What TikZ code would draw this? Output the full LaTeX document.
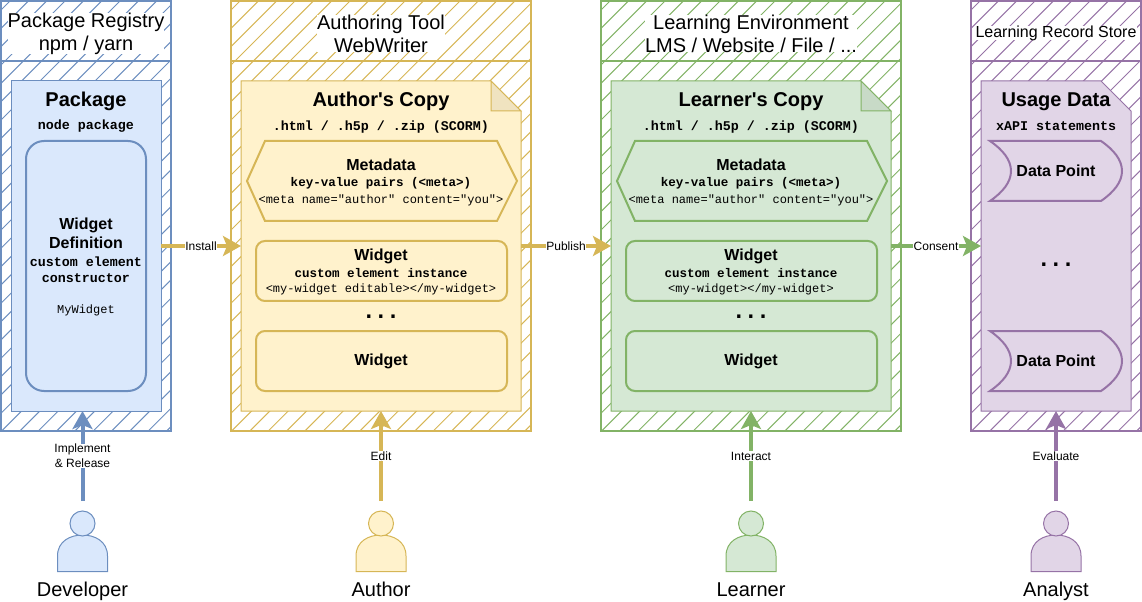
\documentclass[tikz,border=0pt]{standalone}
\usepackage{fontspec}
\newfontfamily\helv{Liberation Sans}
\newfontfamily\cour{Liberation Mono}
\newfontfamily\dotfont{DejaVu Sans Mono}
\usetikzlibrary{fit}
\usetikzlibrary{arrows.meta}
\definecolor{bluefill}{HTML}{DAE8FC}
\definecolor{bluestk}{HTML}{6C8EBF}
\definecolor{yelfill}{HTML}{FFF2CC}
\definecolor{yelstk}{HTML}{D6B656}
\definecolor{grnfill}{HTML}{D5E8D4}
\definecolor{grnstk}{HTML}{82B366}
\definecolor{purfill}{HTML}{E1D5E7}
\definecolor{purstk}{HTML}{9673A6}
\newcommand{\fsz}[1]{\fontsize{#1}{#1}\selectfont}
\tikzset{
    framebox/.style={draw=#1, line width=1.5pt, inner sep=0pt, outer sep=0pt},
    card/.style={inner sep=0pt, outer sep=0pt},
    inner/.style={draw=#1, line width=1.5pt, inner sep=0pt, outer sep=0pt, rounded corners=6.75pt},
    headtxt/.style={fill=white, inner sep=0pt, align=center, font=\helv\fsz{15}},
    title/.style={inner sep=0pt, anchor=base, font=\helv\bfseries\fsz{15}},
    boxtitle/.style={inner sep=0pt, align=center, font=\helv\bfseries\fsz{12}},
    subbold/.style={inner sep=0pt, font=\cour\bfseries\fsz{9.4}},
    subbig/.style={inner sep=0pt, font=\cour\bfseries\fsz{10}},
    subplain/.style={inner sep=0pt, font=\cour\fsz{9}},
    dots/.style={inner sep=0pt, font=\dotfont\bfseries\fsz{15}},
    flow/.style={draw=#1, line width=3pt, -{Stealth[length=13.5pt,width=15pt,inset=3pt]}},
    flowtxt/.style={fill=white, inner sep=.3pt, align=center, font=\helv\fsz{9}, text=black},
    whotxt/.style={inner sep=0pt, anchor=base, font=\helv\fsz{15}}
}

\begin{document}
\begin{tikzpicture}[x=.75pt,y=-.75pt]
    \useasboundingbox (0,0) rectangle (1142,602);
    % outer frames, one header and one body for each system
    \foreach \id/\xa/\xb/\stk in {reg/1/171/bluestk,tool/231/531/yelstk,env/601/901/grnstk,lrs/971/1141/purstk} {
        \begin{scope}
            \clip (\xa,1) rectangle (\xb,431);
            \foreach \n in {-1,...,40}
                \draw[\stk, line width=.75pt] (\xa+10+18.33*\n-431,431) -- (\xa+10+18.33*\n-1,1);
        \end{scope}
        \node[framebox=\stk, fit={(\xa,1) (\xb,61)}] (\id head) {};
        \node[framebox=\stk, fit={(\xa,61) (\xb,431)}] (\id body) {};
    }
    \node[headtxt] (reghdr) at (86,33.5) {Package Registry\\[2.25pt]npm / yarn};
    \node[headtxt] (toolhdr) at (381,33.5) {Authoring Tool\\[2.25pt]WebWriter};
    \node[headtxt] (envhdr) at (751,33.5) {Learning Environment\\[2.25pt]LMS / Website / File / ...};
    \node[headtxt, font=\helv\fsz{12}] (lrshdr) at (1056,33) {Learning Record Store};

    % package
    \node[card, draw=bluestk, line width=.75pt, fill=bluefill, fit={(11,81) (161,411)}] (pkg) {};
    \node[title] (pkgtitle) at (86,107) {Package};
    \node[subbig] (pkgsub) at (86,126.5) {node package};
    \node[inner=bluestk, rounded corners=13.5pt, fit={(26,141) (146,391)}] (widgetdef) {};
    \node[boxtitle] (deftitle) at (86,233.5) {Widget\\[2.25pt]Definition};
    \node[subbig] (defsub) at (86,261.5) {custom element};
    \node[subbig] (defsubb) at (86,278.5) {constructor};
    \node[subplain] (defname) at (86,310) {MyWidget};

    % the two copies have the same layout
    \foreach \id/\dx/\stk/\bg/\ttl/\inst in {
        acopy/0/yelstk/yelfill/Author's Copy/{<my-widget editable></my-widget>},
        lcopy/370/grnstk/grnfill/Learner's Copy/{<my-widget></my-widget>}} {
        \draw[draw=\stk, line width=.75pt, fill=\bg] (241+\dx,81) -- (491+\dx,81) -- (521+\dx,111) -- (521+\dx,411) -- (241+\dx,411) -- cycle;
        \draw[draw=\stk, line width=.75pt, fill=\bg!94!black] (491+\dx,81) -- (521+\dx,111) -- (491+\dx,111) -- cycle;
        \node[card, fit={(241+\dx,81) (521+\dx,411)}] (\id) {};
        \node[title] (\id title) at (381+\dx,107) {\ttl};
        \node[subbig] (\id sub) at (381+\dx,127) {.html / .h5p / .zip (SCORM)};
        \draw[draw=\stk, line width=1.5pt] (265+\dx,141) -- (497+\dx,141) -- (517+\dx,181) -- (497+\dx,221) -- (265+\dx,221) -- (247+\dx,181) -- cycle;
        \node[boxtitle] (\id meta) at (381+\dx,165) {Metadata};
        \node[subbold] (\id metab) at (381+\dx,183.5) {key-value pairs (<meta>)};
        \node[subplain] (\id metac) at (381+\dx,200) {<meta name="author" content="you">};
        \node[inner=\stk, fit={(256+\dx,241) (507+\dx,301)}] (\id wa) {};
        \node[boxtitle] (\id wat) at (381+\dx,256) {Widget};
        \node[subbold] (\id wab) at (381+\dx,273.5) {custom element instance};
        \node[subplain] (\id wac) at (381+\dx,289.5) {\inst};
        \node[dots] (\id dots) at (381+\dx,317) {...};
        \node[inner=\stk, fit={(256+\dx,331) (507+\dx,391)}] (\id wb) {};
        \node[boxtitle] (\id wbt) at (381+\dx,361.5) {Widget};
    }

    % usage data
    \draw[draw=purstk, line width=.75pt, fill=purfill] (981,81) -- (1101,81) -- (1131,111) -- (1131,411) -- (981,411) -- cycle;
    \node[card, fit={(981,81) (1131,411)}] (usage) {};
    \node[title] (usagetitle) at (1056,107) {Usage Data};
    \node[subbig] (usagesub) at (1056,126.5) {xAPI statements};
    \foreach \id/\py in {dpa/141,dpb/331} {
        \draw[draw=purstk, line width=1.5pt] (990,\py) -- (1101,\py) .. controls (1114,\py+9) and (1122,\py+19) .. (1122,\py+30) .. controls (1122,\py+41) and (1114,\py+51) .. (1101,\py+60) -- (990,\py+60) .. controls (1003,\py+51) and (1011,\py+41) .. (1011,\py+30) .. controls (1011,\py+19) and (1003,\py+9) .. (990,\py) -- cycle;
        \node[boxtitle] (\id) at (1056,\py+30) {Data Point};
    }
    \node[dots] (usagedots) at (1056,265) {...};

    % flow between the systems
    \draw[flow=yelstk] (pkg.east) -- (acopy.west) node[midway,flowtxt] (install) {Install};
    \draw[flow=yelstk] (acopy.east) -- (lcopy.west) node[midway,flowtxt] (publish) {Publish};
    \draw[flow=grnstk] (lcopy.east) -- (usage.west) node[midway,flowtxt] (consent) {Consent};

    % the people
    \foreach \id/\px/\stk/\bg/\who/\verbtxt/\tgt in {
        dev/82.5/bluestk/bluefill/Developer/{Implement\\[2.5pt]\& Release}/pkg,
        aut/381/yelstk/yelfill/Author/Edit/acopy,
        lrn/751/grnstk/grnfill/Learner/Interact/lcopy,
        ana/1056/purstk/purfill/Analyst/Evaluate/usage} {
        \coordinate (\id from) at (\px,501);
        \draw[flow=\stk] (\id from) -- (\id from |- \tgt.south) node[midway,flowtxt] (\id verb) {\verbtxt};
        \draw[draw=\stk, line width=.75pt, fill=\bg] (\px-25,571.5) -- (\px-25,556) .. controls (\px-25,541) and (\px-12,535) .. (\px,535) .. controls (\px+12,535) and (\px+25,541) .. (\px+25,556) -- (\px+25,571.5) -- cycle;
        \node[circle, draw=\stk, line width=.75pt, fill=\bg, minimum size=18.75pt, inner sep=0pt] (\id head) at (\px,523.5) {};
        \node[whotxt] (\id name) at (\px,596) {\who};
    }
\end{tikzpicture}
\end{document}
